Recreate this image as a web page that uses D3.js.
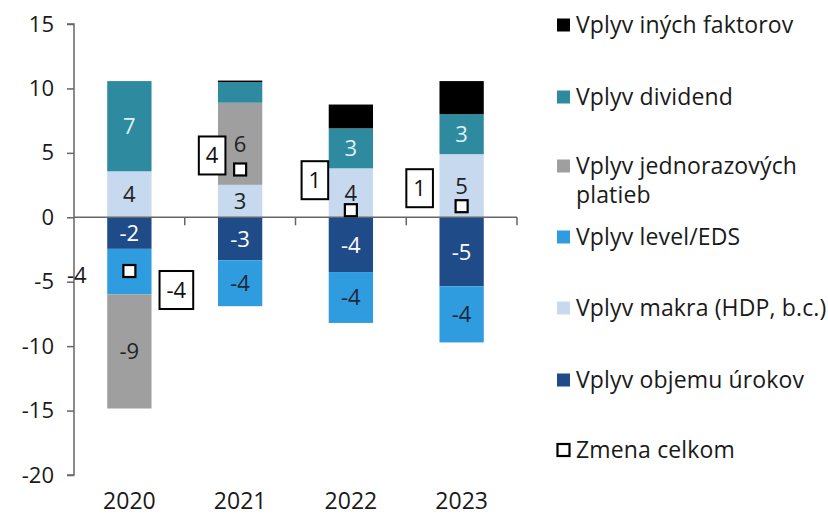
<!DOCTYPE html>
<html>
<head>
<meta charset="utf-8">
<script src="https://cdn.jsdelivr.net/npm/d3@7"></script>
<style>
  html, body { margin: 0; padding: 0; background: #fff; }
  svg text { font-family: "Open Sans", "Liberation Sans", Arial, sans-serif; }
</style>
</head>
<body>
<svg id="chart" width="828" height="517"></svg>
<script>
// Categories (years)
const years = ["2020", "2021", "2022", "2023"];

// Contributions per factor, one array per series
const objemuUrokov   = [-2.45, -3.34, -4.25, -5.36];  // Vplyv objemu úrokov
const makra          = [ 3.57,  2.52,  3.80,  4.90];  // Vplyv makra (HDP, b.c.)
const levelEDS       = [-3.53, -3.56, -3.95, -4.35];  // Vplyv level/EDS
const jednorazove    = [-8.86,  6.37,  0.00,  0.00];  // Vplyv jednorazových platieb
const dividend       = [ 7.00,  1.60,  3.10,  3.10];  // Vplyv dividend
const ineFaktory     = [ 0.00,  0.12,  1.85,  2.57];  // Vplyv iných faktorov

// Total change (Zmena celkom)
const zmenaCelkom    = [-4.17, 3.71, 0.55, 0.86];

// Y axis ticks
const yTicks = [-20, -15, -10, -5, 0, 5, 10, 15];

// Series definitions (stack order) and legend order
const seriesDefs = [
  { key: "objemu", name: "Vplyv objemu úrokov", values: objemuUrokov, color: "#1f4c89", text: "#ffffff", label: true },
  { key: "makra", name: "Vplyv makra (HDP, b.c.)", values: makra, color: "#c7d9ef", text: "#222222", label: true },
  { key: "level", name: "Vplyv level/EDS", values: levelEDS, color: "#2f9ce0", text: "#1c2838", label: true },
  { key: "jedn", name: ["Vplyv jednorazových", "platieb"], values: jednorazove, color: "#9f9f9f", text: "#222222", label: true },
  { key: "div", name: "Vplyv dividend", values: dividend, color: "#2e8a9f", text: "#dff0f7", label: true },
  { key: "ine", name: "Vplyv iných faktorov", values: ineFaktory, color: "#000000", text: "#ffffff", label: false }
];
const legendOrder = ["ine", "div", "jedn", "level", "makra", "objemu"];

// Placement of the total-change boxes relative to their markers
const boxOffsets = [[47, 19], [-28, -14], [-36, -30], [-42, -18]];

const FONT = "Open Sans, Liberation Sans, Arial, sans-serif";
const svg = d3.select("#chart");
const margin = { left: 74 };

const x = d3.scaleBand()
  .domain(years)
  .range([margin.left, 517])
  .paddingInner(0.6)
  .paddingOuter(0.3);

const y = d3.scaleLinear()
  .domain([-20, 15])
  .range([475, 24]);

// Build table for stacking
const table = years.map((yr, i) => {
  const row = { year: yr };
  seriesDefs.forEach(s => row[s.key] = s.values[i]);
  return row;
});

const stack = d3.stack()
  .keys(seriesDefs.map(s => s.key))
  .offset(d3.stackOffsetDiverging);
const stacked = stack(table);

// Bars
const gBars = svg.append("g");
stacked.forEach((layer, li) => {
  const def = seriesDefs[li];
  gBars.selectAll(null)
    .data(layer.filter(d => d[1] - d[0] !== 0))
    .enter().append("rect")
    .attr("x", d => x(d.data.year))
    .attr("width", x.bandwidth())
    .attr("y", d => y(Math.max(d[0], d[1])))
    .attr("height", d => Math.abs(y(d[0]) - y(d[1])))
    .attr("fill", def.color);
});

// Segment value labels (plain hyphen minus)
const fmt = v => String(Math.round(v));
// The 2020 level/EDS label sits outside the bar, next to the axis
const isOutside = (key, year) => key === "level" && year === "2020";
stacked.forEach((layer, li) => {
  const def = seriesDefs[li];
  if (!def.label) return;
  gBars.selectAll(null)
    .data(layer.filter(d => Math.abs(d[1] - d[0]) >= 2 && !isOutside(def.key, d.data.year)))
    .enter().append("text")
    .attr("x", d => x(d.data.year) + x.bandwidth() / 2)
    .attr("y", d => y((d[0] + d[1]) / 2))
    .attr("dy", "0.36em")
    .attr("text-anchor", "middle")
    .attr("font-size", 22)
    .attr("fill", def.text)
    .text(d => fmt(d.data[def.key]));
});

// Y axis
const yAxis = d3.axisLeft(y).tickValues(yTicks).tickSize(7).tickPadding(13).tickFormat(d => String(d));
const gy = svg.append("g").attr("transform", `translate(${margin.left},0)`).call(yAxis);
gy.select(".domain").attr("stroke", "#666").attr("stroke-width", 1.5).attr("d", `M-7,${y(15)}H0V${y(-20)}H-7`);
gy.selectAll(".tick line").attr("stroke", "#666").attr("stroke-width", 1.5);
gy.selectAll(".tick text").attr("font-size", 22).attr("fill", "#1a1a1a").attr("font-family", FONT);

// Zero line with category separators
const step = x.step();
const zeroY = y(0);
svg.append("line")
  .attr("x1", margin.left).attr("x2", 517)
  .attr("y1", zeroY).attr("y2", zeroY)
  .attr("stroke", "#666").attr("stroke-width", 1.5);
svg.selectAll(null)
  .data(years)
  .enter().append("line")
  .attr("x1", d => x(d) - step * 0.3 + step)
  .attr("x2", d => x(d) - step * 0.3 + step)
  .attr("y1", zeroY).attr("y2", zeroY + 8)
  .attr("stroke", "#666").attr("stroke-width", 1.5);

// Category labels
const xAxis = d3.axisBottom(x).tickSize(0).tickPadding(0);
const gx = svg.append("g").attr("transform", "translate(0,487)").call(xAxis);
gx.select(".domain").remove();
gx.selectAll(".tick text").attr("font-size", 23).attr("fill", "#1a1a1a").attr("dy", "0.95em")
  .attr("font-family", FONT);

// Outside label of the 2020 level/EDS segment
svg.append("text")
  .attr("x", 67).attr("y", y(-4.45)).attr("dy", "0.36em")
  .attr("font-size", 22).attr("fill", "#1a1a1a")
  .text(fmt(levelEDS[0]));

// Total change markers
const gTot = svg.append("g");
gTot.selectAll(null)
  .data(zmenaCelkom)
  .enter().append("rect")
  .attr("x", (d, i) => x(years[i]) + x.bandwidth() / 2 - 6)
  .attr("y", d => y(d) - 6)
  .attr("width", 12).attr("height", 12)
  .attr("fill", "#fff").attr("stroke", "#000").attr("stroke-width", 2.2);

// Boxed total labels
zmenaCelkom.forEach((v, i) => {
  const cx = x(years[i]) + x.bandwidth() / 2 + boxOffsets[i][0];
  const cy = y(v) + boxOffsets[i][1];
  const t = gTot.append("text")
    .attr("x", cx).attr("y", cy).attr("dy", "0.36em")
    .attr("text-anchor", "middle").attr("font-size", 22).attr("fill", "#111")
    .text(fmt(v));
  const w = t.node().getComputedTextLength() + 14;
  gTot.insert("rect", "text")
    .attr("x", cx - w / 2).attr("y", cy - 19)
    .attr("width", w).attr("height", 38)
    .attr("fill", "#fff").attr("stroke", "#000").attr("stroke-width", 2);
  t.raise();
});

// Legend
const legendY = [25, 97, 166, 237, 308, 380, 450];
const gLeg = svg.append("g");
const legendItems = legendOrder.map(k => seriesDefs.find(s => s.key === k));
legendItems.forEach((s, i) => {
  const cy = legendY[i];
  gLeg.append("rect")
    .attr("x", 557).attr("y", cy - 6.5).attr("width", 13).attr("height", 13)
    .attr("fill", s.color);
  const lines = Array.isArray(s.name) ? s.name : [s.name];
  const t = gLeg.append("text").attr("x", 576).attr("y", cy)
    .attr("font-size", 23).attr("letter-spacing", 0.15).attr("fill", "#1a1a1a");
  lines.forEach((ln, j) => {
    t.append("tspan").attr("x", 576).attr("dy", j === 0 ? "0.36em" : "1.27em").text(ln);
  });
});
// Total marker entry
const lastY = legendY[6];
gLeg.append("rect")
  .attr("x", 557.5).attr("y", lastY - 6).attr("width", 12).attr("height", 12)
  .attr("fill", "#fff").attr("stroke", "#000").attr("stroke-width", 2.2);
gLeg.append("text").attr("x", 576).attr("y", lastY).attr("dy", "0.36em")
  .attr("font-size", 23).attr("letter-spacing", 0.15).attr("fill", "#1a1a1a").text("Zmena celkom");
</script>
</body>
</html>
